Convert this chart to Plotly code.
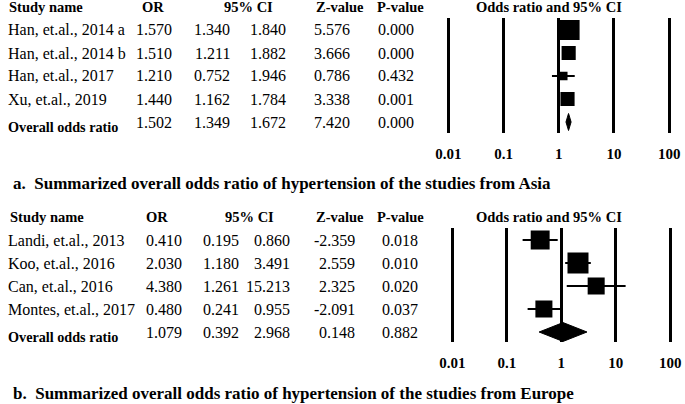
import math
import plotly.graph_objects as go

# ---------------- data ----------------
tick_vals = [0.01, 0.1, 1, 10, 100]
tick_text = ["0.01", "0.1", "1", "10", "100"]

study_a = ["Han, et.al., 2014 a", "Han, et.al., 2014 b", "Han, et.al., 2017", "Xu, et.al., 2019"]
or_a = [1.570, 1.510, 1.210, 1.440]
lo_a = [1.340, 1.211, 0.752, 1.162]
hi_a = [1.840, 1.882, 1.946, 1.784]
z_a = [5.576, 3.666, 0.786, 3.338]
p_a = [0.000, 0.000, 0.432, 0.001]
weight_a = [46, 23, 8, 23]          # relative weight (%)
overall_a = {"or": 1.502, "lo": 1.349, "hi": 1.672, "z": 7.420, "p": 0.000}

study_b = ["Landi, et.al., 2013", "Koo, et.al., 2016", "Can, et.al., 2016", "Montes, et.al., 2017"]
or_b = [0.410, 2.030, 4.380, 0.480]
lo_b = [0.195, 1.180, 1.261, 0.241]
hi_b = [0.860, 3.491, 15.213, 0.955]
z_b = [-2.359, 2.559, 2.325, -2.091]
p_b = [0.018, 0.010, 0.020, 0.037]
weight_b = [26, 32, 21, 21]         # relative weight (%)
overall_b = {"or": 1.079, "lo": 0.392, "hi": 2.968, "z": 0.148, "p": 0.882}

caption_a = "a.\u00a0 Summarized overall odds ratio of hypertension of the studies from Asia"
caption_b = "b.\u00a0 Summarized overall odds ratio of hypertension of the studies from Europe"
headers = ["Study name", "OR", "95% CI", "Z-value", "P-value", "Odds ratio and 95% CI"]

# ---------------- layout helpers ----------------
W, H = 685, 404
FONT = "Liberation Serif, Times New Roman, serif"


def px(x):
    return x / W


def py(y):
    return 1 - y / H


fig = go.Figure()
annotations = []


def txt(x, y, s, size=16, bold=False, anchor="left"):
    annotations.append(dict(
        x=px(x), y=py(y), xref="paper", yref="paper", text=s, showarrow=False,
        xanchor=anchor, yanchor="middle", borderpad=0,
        font=dict(family=FONT, size=size, color="black", weight="bold" if bold else "normal"),
    ))


def panel(idx, studies, ors, los, his, zs, ps, weights, overall, caption, geo):
    xa = "x" if idx == 1 else "x2"
    ya = "y" if idx == 1 else "y2"
    rows = list(range(len(studies)))
    # confidence interval segments
    cx_, cy_ = [], []
    for r, l, h in zip(rows, los, his):
        cx_ += [l, h, None]
        cy_ += [r, r, None]
    fig.add_trace(go.Scatter(
        x=cx_, y=cy_, xaxis=xa, yaxis=ya, mode="lines",
        line=dict(color="black", width=2), showlegend=False, hoverinfo="skip",
    ))
    # squares sized by weight
    maxw = max(weights)
    sizes = [geo["box"] * math.sqrt(w / maxw) for w in weights]
    fig.add_trace(go.Scatter(
        x=ors, y=rows, xaxis=xa, yaxis=ya, mode="markers", opacity=1,
        marker=dict(symbol="square", size=sizes, color="#000000", opacity=1,
                    line=dict(width=0, color="#000000")),
        showlegend=False, hoverinfo="skip",
    ))
    # overall diamond
    r = len(studies)
    dh = geo["dh"]
    fig.add_trace(go.Scatter(
        x=[overall["lo"], overall["or"], overall["hi"], overall["or"], overall["lo"]],
        y=[r, r - dh, r, r + dh, r], xaxis=xa, yaxis=ya, mode="lines",
        fill="toself", fillcolor="black", line=dict(color="black", width=1),
        showlegend=False, hoverinfo="skip",
    ))
    # table text
    top = geo["top"]
    step = 23
    hx = geo["hx"]
    txt(hx[0], top, headers[0], 14.5, True)
    for k in range(1, 6):
        txt(hx[k], top, headers[k], 14.5, True, "center")
    cx = geo["cx"]
    for i, name in enumerate(studies):
        y = top + step * (i + 1)
        txt(geo["name_x"], y, name)
        txt(cx[0], y, f"{ors[i]:.3f}", anchor="right")
        txt(cx[1], y, f"{los[i]:.3f}", anchor="right")
        txt(cx[2], y, f"{his[i]:.3f}", anchor="right")
        txt(cx[3], y, f"{zs[i]:.3f}", anchor="right")
        txt(cx[4], y, f"{ps[i]:.3f}", anchor="right")
    y = top + step * (len(studies) + 1)
    txt(geo["name_x"], y + 5, "Overall odds ratio", 14.2, True)
    txt(cx[0], y, f"{overall['or']:.3f}", anchor="right")
    txt(cx[1], y, f"{overall['lo']:.3f}", anchor="right")
    txt(cx[2], y, f"{overall['hi']:.3f}", anchor="right")
    txt(cx[3], y, f"{overall['z']:.3f}", anchor="right")
    txt(cx[4], y, f"{overall['p']:.3f}", anchor="right")
    txt(7, geo["cap"], caption, 17, True)


geo_a = dict(top=7, box=20, dh=0.37, name_x=2, cap=184,
             hx=[3, 150, 246, 338, 400, 550], cx=[170, 228, 285, 350, 414],
             x0=440, x1=680, d001=448, dpx=55.75, y0=18, y1=133)
geo_b = dict(top=217, box=21, dh=0.41, name_x=2, cap=393,
             hx=[4, 154, 247, 338, 400, 550], cx=[180, 237, 289, 355, 418],
             x0=444, x1=684, d001=452, dpx=55.0, y0=228, y1=342)

panel(1, study_a, or_a, lo_a, hi_a, z_a, p_a, weight_a, overall_a, caption_a, geo_a)
panel(2, study_b, or_b, lo_b, hi_b, z_b, p_b, weight_b, overall_b, caption_b, geo_b)


def xaxis_cfg(g, anchor):
    lo = -2 - (g["d001"] - g["x0"]) / g["dpx"]
    hi = -2 + (g["x1"] - g["d001"]) / g["dpx"]
    return dict(
        type="log", domain=[px(g["x0"]), px(g["x1"])], range=[lo, hi], anchor=anchor,
        tickvals=tick_vals, ticktext=tick_text,
        tickfont=dict(family=FONT, size=15, color="black", weight="bold"),
        ticks="outside", ticklen=7, tickcolor="rgba(0,0,0,0)",
        showgrid=True, gridcolor="black", gridwidth=2.5,
        zeroline=False, showline=False, fixedrange=True,
    )


def yaxis_cfg(g, anchor):
    top_v = -(12 / 23)
    bot_v = (g["y1"] - g["y0"]) / 23 + top_v
    return dict(
        domain=[py(g["y1"]), py(g["y0"])], range=[bot_v, top_v], anchor=anchor,
        showgrid=False, zeroline=False, showticklabels=False, showline=False,
        ticks="", fixedrange=True,
    )


fig.update_layout(
    width=W, height=H, margin=dict(l=0, r=0, t=0, b=0, pad=0),
    paper_bgcolor="white", plot_bgcolor="white",
    xaxis=xaxis_cfg(geo_a, "y"), yaxis=yaxis_cfg(geo_a, "x"),
    xaxis2=xaxis_cfg(geo_b, "y2"), yaxis2=yaxis_cfg(geo_b, "x2"),
    annotations=annotations,
    showlegend=False,
)

fig.write_html("out.html", config={"displayModeBar": False},
               post_script="document.body.style.margin='0px';")
